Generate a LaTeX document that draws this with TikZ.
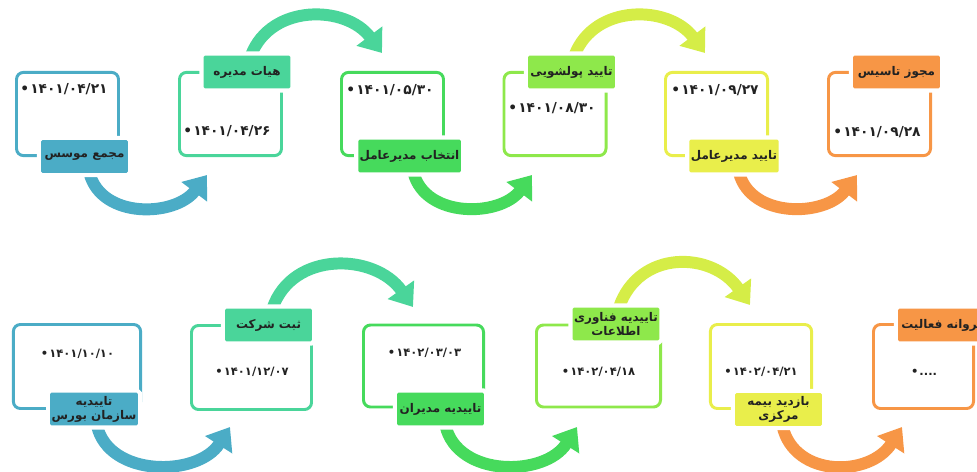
\documentclass[tikz,border=0pt]{standalone}
\usepackage{fontspec}
\usepackage{tikz}
\usetikzlibrary{arrows.meta,calc,backgrounds}
\newfontfamily\fafont[Script=Arabic]{DejaVu Sans}
\TeXXeTstate=1
\definecolor{StepBlue}{HTML}{4BACC6}
\definecolor{StepTeal}{HTML}{4AD59A}
\definecolor{StepGreen}{HTML}{46DA5C}
\definecolor{StepLime}{HTML}{8EE84B}
\definecolor{StepYellow}{HTML}{E9EE4B}
\definecolor{StepOrange}{HTML}{F79646}
\definecolor{ArcLime}{HTML}{D5ED47}
\definecolor{TextDark}{HTML}{222222}
\newcommand{\bulletdate}[1]{\mbox{•}\kern0.8pt\mbox{#1}}

\begin{document}
\begin{tikzpicture}[
    x=0.025cm, y=-0.025cm,
    stepbox/.style={
      draw=#1,
      line width=2.1pt,
      rounded corners=5pt,
      minimum width=2.55cm,
      minimum height=2.08cm
    },
    steplabel/.style={
      fill=#1,
      preaction={draw=white, line width=6pt},
      rounded corners=1pt,
      minimum width=2.17cm,
      minimum height=0.82cm,
      inner sep=1pt,
      align=center,
      text=TextDark,
      font=\fafont\bfseries\fontsize{8.5}{10}\selectfont
    },
    datetext/.style={
      inner sep=0pt,
      text=TextDark,
      font=\fafont\bfseries\fontsize{9.8}{11}\selectfont
    },
    datesmall/.style={
      datetext,
      font=\fafont\bfseries\fontsize{8.2}{10}\selectfont
    },
    flowarc/.style={
      draw=#1,
      line width=8.5pt,
      -{Triangle[width=22pt,length=15pt]}
    }
  ]
  \useasboundingbox (0,0) rectangle (977,472);

  % Boxes, upper row
  \node[stepbox=StepBlue]   (box1) at (67.5,114) {};
  \node[stepbox=StepTeal]   (box2) at (230.5,114) {};
  \node[stepbox=StepGreen]  (box3) at (392.5,114) {};
  \node[stepbox=StepLime]   (box4) at (555,114) {};
  \node[stepbox=StepYellow] (box5) at (716.5,114) {};
  \node[stepbox=StepOrange] (box6) at (879.5,114) {};

  % Boxes, lower row
  \node[stepbox=StepBlue,   minimum width=3.18cm, minimum height=2.1cm] (box7)  at (77,366.5) {};
  \node[stepbox=StepTeal,   minimum width=3.0cm,  minimum height=2.1cm] (box8)  at (251.5,367.5) {};
  \node[stepbox=StepGreen,  minimum width=3.0cm,  minimum height=2.05cm] (box9)  at (423.5,366) {};
  \node[stepbox=StepLime,   minimum width=3.1cm,  minimum height=2.05cm] (box10) at (598.5,366) {};
  \node[stepbox=StepYellow, minimum width=2.53cm, minimum height=2.1cm] (box11) at (761,366.5) {};
  \node[stepbox=StepOrange, minimum width=2.5cm,  minimum height=2.1cm] (box12) at (923.5,366.5) {};

  % Labels, upper row
  \node[steplabel=StepBlue]   (lab1) at (84.5,156.5) {\beginR مجمع موسس\endR};
  \node[steplabel=StepTeal]   (lab2) at (247,72) {\beginR هیات مدیره\endR};
  \node[steplabel=StepGreen]  (lab3) at (409.5,156) {\beginR انتخاب مدیرعامل\endR};
  \node[steplabel=StepLime]   (lab4) at (571.5,72) {\beginR تایید پولشویی\endR};
  \node[steplabel=StepYellow] (lab5) at (734,156) {\beginR تایید مدیرعامل\endR};
  \node[steplabel=StepOrange] (lab6) at (896.5,72) {\beginR مجوز تاسیس\endR};

  % Labels, lower row
  \node[steplabel=StepBlue]   (lab7)  at (94,409) {\beginR تاییدیه\endR\\\beginR سازمان بورس\endR};
  \node[steplabel=StepTeal]   (lab8)  at (268.5,325) {\beginR ثبت شرکت\endR};
  \node[steplabel=StepGreen]  (lab9)  at (440.5,409) {\beginR تاییدیه مدیران\endR};
  \node[steplabel=StepLime]   (lab10) at (616,324) {\beginR تاییدیه فناوری\endR\\\beginR اطلاعات\endR};
  \node[steplabel=StepYellow] (lab11) at (778.5,409.5) {\beginR بازدید بیمه\endR\\\beginR مرکزی\endR};
  \node[steplabel=StepOrange] (lab12) at (941.5,325) {\beginR پروانه فعالیت\endR};

  % Dates
  \node[datetext] (date1) at (64,89) {\bulletdate{۱۴۰۱/۰۴/۲۱}};
  \node[datetext] (date2) at (227,131) {\bulletdate{۱۴۰۱/۰۴/۲۶}};
  \node[datetext] (date3) at (390,90) {\bulletdate{۱۴۰۱/۰۵/۳۰}};
  \node[datetext] (date4) at (552,108) {\bulletdate{۱۴۰۱/۰۸/۳۰}};
  \node[datetext] (date5) at (715,90) {\bulletdate{۱۴۰۱/۰۹/۲۷}};
  \node[datetext] (date6) at (877,132) {\bulletdate{۱۴۰۱/۰۹/۲۸}};
  \node[datesmall] (date7)  at (77.5,354) {\bulletdate{۱۴۰۱/۱۰/۱۰}};
  \node[datesmall] (date8)  at (252,372) {\bulletdate{۱۴۰۱/۱۲/۰۷}};
  \node[datesmall] (date9)  at (424.5,353) {\bulletdate{۱۴۰۲/۰۳/۰۳}};
  \node[datesmall] (date10) at (598.5,372) {\bulletdate{۱۴۰۲/۰۴/۱۸}};
  \node[datesmall] (date11) at (761,372) {\bulletdate{۱۴۰۲/۰۴/۲۱}};
  \node[datesmall] (date12) at (924,372) {\bulletdate{....}};

  % Arrow tips
  \coordinate (tip1) at (207,175);
  \coordinate (tip2) at (382,53);
  \coordinate (tip3) at (532,175);
  \coordinate (tip4) at (705,53);
  \coordinate (tip5) at (857,175);
  \coordinate (tip6) at (230,427);
  \coordinate (tip7) at (413,307);
  \coordinate (tip8) at (577,427);
  \coordinate (tip9) at (750,305);
  \coordinate (tip10) at (902,427);

  % Curved arrows
  \begin{scope}[on background layer]
    \draw[flowarc=StepBlue] ($(lab1.south)+(5,0)$) .. controls ($(lab1.south)+(17,46)$) and ($(tip1)+(-32,42)$) .. (tip1);
    \draw[flowarc=StepTeal] ($(lab2.north)+(4,0)$) .. controls ($(lab2.north)+(24,-52)$) and ($(tip2)+(-36,-48)$) .. (tip2);
    \draw[flowarc=StepGreen] ($(lab3.south)+(4,0)$) .. controls ($(lab3.south)+(16,46)$) and ($(tip3)+(-32,42)$) .. (tip3);
    \draw[flowarc=ArcLime] ($(lab4.north)+(3,0)$) .. controls ($(lab4.north)+(23,-52)$) and ($(tip4)+(-36,-48)$) .. (tip4);
    \draw[flowarc=StepOrange] ($(lab5.south)+(5,0)$) .. controls ($(lab5.south)+(17,46)$) and ($(tip5)+(-32,42)$) .. (tip5);
    \draw[flowarc=StepBlue] ($(lab7.south)+(3,0)$) .. controls ($(lab7.south)+(15,52)$) and ($(tip6)+(-32,50)$) .. (tip6);
    \draw[flowarc=StepTeal] ($(lab8.north)+(4,0)$) .. controls ($(lab8.north)+(24,-58)$) and ($(tip7)+(-38,-54)$) .. (tip7);
    \draw[flowarc=StepGreen] ($(lab9.south)+(5,0)$) .. controls ($(lab9.south)+(17,52)$) and ($(tip8)+(-32,50)$) .. (tip8);
    \draw[flowarc=ArcLime] ($(lab10.north)+(3,0)$) .. controls ($(lab10.north)+(23,-58)$) and ($(tip9)+(-38,-54)$) .. (tip9);
    \draw[flowarc=StepOrange] ($(lab11.south)+(4,0)$) .. controls ($(lab11.south)+(16,52)$) and ($(tip10)+(-32,50)$) .. (tip10);
  \end{scope}

\end{tikzpicture}
\end{document}
